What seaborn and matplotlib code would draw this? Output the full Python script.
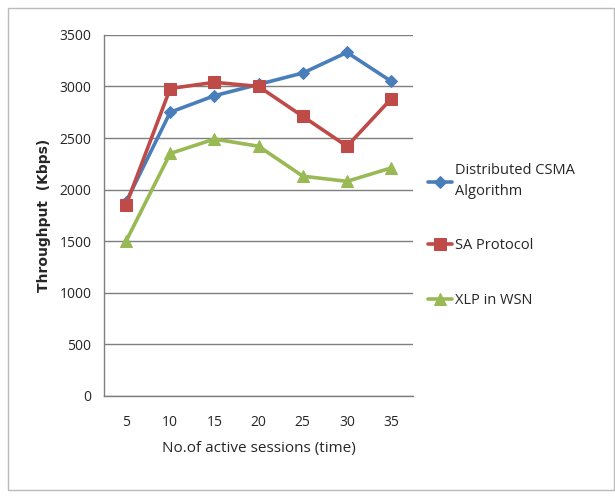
import matplotlib
matplotlib.use("Agg")
import matplotlib.pyplot as plt
import seaborn as sns
import pandas as pd
import numpy as np

sessions = [5, 10, 15, 20, 25, 30, 35]
csma = [1880, 2750, 2910, 3020, 3130, 3330, 3050]
sa_protocol = [1850, 2980, 3040, 3000, 2710, 2420, 2880]
xlp = [1500, 2350, 2490, 2420, 2130, 2080, 2210]
series_names = ["Distributed CSMA\nAlgorithm", "SA Protocol", "XLP in WSN"]
y_ticks = [0, 500, 1000, 1500, 2000, 2500, 3000, 3500]

sns.set_style("white")
plt.rcParams["font.family"] = ["Open Sans", "DejaVu Sans"]

rows = []
for name, vals in zip(series_names, [csma, sa_protocol, xlp]):
    for i, (s, v) in enumerate(zip(sessions, vals)):
        rows.append({"pos": i, "session": s, "value": v, "series": name})
df = pd.DataFrame(rows)

colors = ["#4A7EBB", "#BE4B48", "#98B954"]
markers = ["D", "s", "^"]
sizes = [6, 8, 8]

fig = plt.figure(figsize=(6.15, 4.98), dpi=100)
fig.patch.set_facecolor("white")
# outer frame
fig.add_artist(plt.Rectangle((0.013, 0.016), 0.985, 0.968, transform=fig.transFigure,
                             fill=False, edgecolor="#BBBBBB", linewidth=1.0))

ax = fig.add_axes([0.169, 0.205, 0.503, 0.725])
for name, c, m, ms in zip(series_names, colors, markers, sizes):
    sub = df[df["series"] == name]
    sns.lineplot(data=sub, x="pos", y="value", ax=ax, color=c, marker=m,
                 markersize=ms, markeredgecolor=c, linewidth=2.6, label=name)

ax.set_ylim(0, 3500)
ax.set_xlim(-0.5, 6.5)
ax.set_yticks(y_ticks)
ax.set_yticklabels([str(t) for t in y_ticks], fontsize=10)
ax.yaxis.grid(True, color="#7F7F7F", linewidth=1.0)
ax.set_axisbelow(True)
ax.set_xticks(range(len(sessions)))
ax.set_xticklabels([str(s) for s in sessions], fontsize=10)
ax.set_xticks(np.arange(-0.5, 7, 1), minor=True)
ax.tick_params(axis="x", which="major", length=0, pad=14)
ax.tick_params(axis="x", which="minor", length=5, color="#7F7F7F", direction="out")
ax.tick_params(axis="y", which="major", length=5, color="#7F7F7F", direction="out", pad=4)
for side in ["top", "right"]:
    ax.spines[side].set_visible(False)
for side in ["left", "bottom"]:
    ax.spines[side].set_color("#7F7F7F")
    ax.spines[side].set_linewidth(1.0)

ax.set_xlabel("No.of active sessions (time)", fontsize=11, labelpad=8)
ax.set_ylabel("Throughput  (Kbps)", fontsize=10, fontweight="heavy",
              family=["DejaVu Sans"], labelpad=6)

leg = ax.legend(loc="upper left", bbox_to_anchor=(1.03, 0.66), frameon=False,
                fontsize=10.5, handlelength=1.6, handletextpad=0.2,
                labelspacing=2.7, borderaxespad=0)
for t in leg.get_texts():
    t.set_linespacing(1.5)

fig.savefig("out.png", dpi=100, facecolor="white")
